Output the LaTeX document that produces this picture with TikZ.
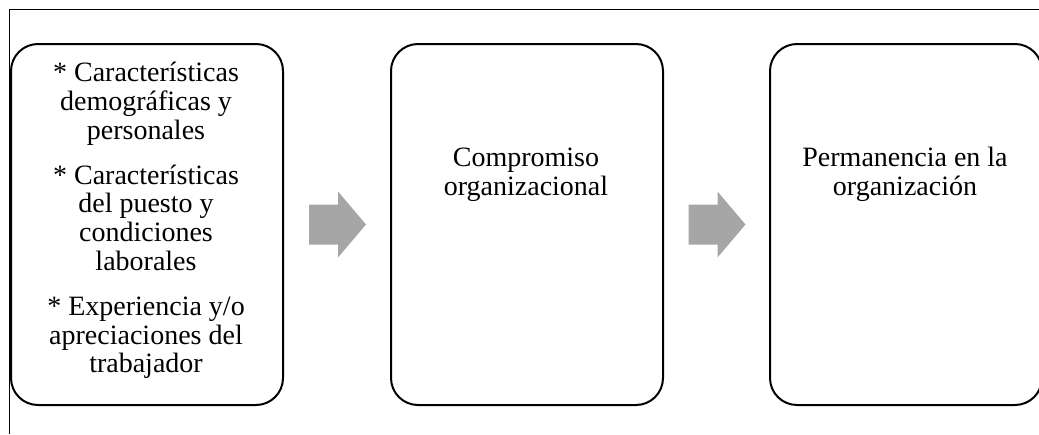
\documentclass[tikz,border=0pt]{standalone}
\usepackage{fontspec}
\setmainfont{Liberation Serif}
\usetikzlibrary{calc}
\definecolor{arrowgray}{HTML}{A6A6A6}
\tikzset{
  stage/.style={draw=black, line width=2pt, rounded corners=27pt,
    minimum width=272pt, minimum height=361pt, inner sep=0pt, anchor=north west},
  txt/.style={font=\fontsize{28}{29}\selectfont, inner sep=0pt, anchor=base},
  blockarrow/.style={fill=arrowgray, draw=none},
  frame/.style={draw=black, line width=1pt},
}
\begin{document}
\begin{tikzpicture}[x=1pt,y=-1pt]
\useasboundingbox (0,0) rectangle (1039,434);

% outer frame (top and left edges)
\coordinate (fbl) at (9,434);
\coordinate (ftl) at (9,9);
\coordinate (ftr) at (1039,9);
\draw[frame] (fbl) -- (ftl) -- (ftr);

% process stages
\node[stage] (b1) at (10,43) {};
\node[stage] (b2) at (390,43) {};
\node[stage] (b3) at (769,43) {};

% first stage: three factors
\node[txt] (l1)  at (146,81)    {* Características};
\node[txt] (l2)  at (146,110)   {demográficas y};
\node[txt] (l3)  at (146,139)   {personales};
\node[txt] (l4)  at (146,184)   {* Características};
\node[txt] (l5)  at (146,212.5) {del puesto y};
\node[txt] (l6)  at (146,241)   {condiciones};
\node[txt] (l7)  at (146,270)   {laborales};
\node[txt] (l8)  at (146,315)   {* Experiencia y/o};
\node[txt] (l9)  at (146,344)   {apreciaciones del};
\node[txt] (l10) at (146,372.5) {trabajador};

% second and third stages
\node[txt] (m1) at (526,166.5) {Compromiso};
\node[txt] (m2) at (526,195.5) {organizacional};
\node[txt] (r1) at (905,166.5) {Permanencia en la};
\node[txt] (r2) at (905,195.5) {organización};

% block arrows between stages
\coordinate (a1) at ($(b1.east)!0.5!(b2.west)$);
\coordinate (a2) at ($(b2.east)!0.5!(b3.west)$);
\foreach \c in {a1,a2}{
  \fill[blockarrow] ($(\c)+(-28,-20)$) -- ($(\c)+(1,-20)$) -- ($(\c)+(1,-33)$)
    -- ($(\c)+(29,0)$) -- ($(\c)+(1,33)$) -- ($(\c)+(1,20)$)
    -- ($(\c)+(-28,20)$) -- cycle;
}
\end{tikzpicture}
\end{document}
